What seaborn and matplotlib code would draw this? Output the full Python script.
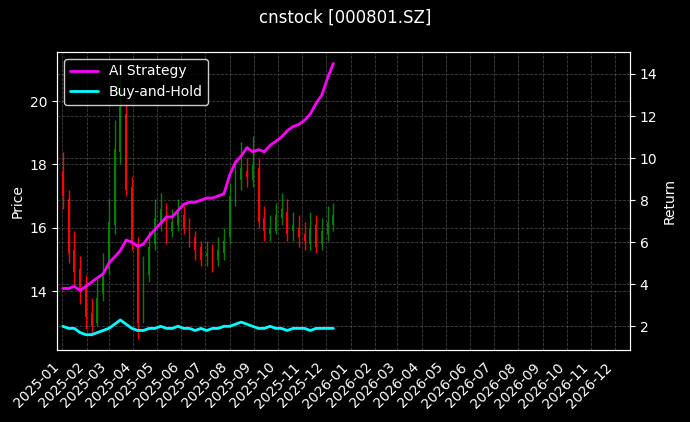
import numpy as np
import pandas as pd
import matplotlib
matplotlib.use("Agg")
import matplotlib.pyplot as plt
import matplotlib.dates as mdates
import seaborn as sns

closes = [17.0,15.2,14.6,14.0, 13.2,12.9,13.8,14.6, 16.2,18.5,19.8,17.2, 15.6,13.0,14.6,15.4,
          16.3,16.6,15.8,16.2, 16.5,16.0,15.6,15.3,15.0, 15.2,14.9,15.3,15.6, 17.0,17.4,17.9,17.6,
          18.0,16.2,15.9,16.0, 16.4,16.6,15.8,16.1,15.7, 15.6,16.0,15.4,15.9, 16.2,16.4]
opens = [17.8,16.9,15.3,14.7, 14.1,13.3,13.0,13.9, 14.7,16.1,18.4,19.6, 17.3,15.5,13.2,14.5,
         15.5,16.2,16.5,15.9, 16.1,16.4,16.1,15.7,15.4, 15.1,15.3,15.0,15.2, 15.7,16.9,17.5,17.8,
         17.5,17.9,16.3,15.8, 15.9,16.3,16.5,15.9,16.0, 15.8,15.5,16.1,15.5, 15.8,16.1]
highs = [18.4,17.2,15.9,15.1, 14.5,13.8,14.4,15.2, 16.9,19.4,21.3,19.9, 17.6,15.7,15.1,15.9,
         16.9,17.1,16.8,16.6, 16.9,16.7,16.3,15.9,15.6, 15.6,15.5,15.7,16.0, 17.4,18.0,18.7,18.2,
         18.9,18.2,16.7,16.4, 16.8,17.1,16.9,16.5,16.4, 16.2,16.5,16.4,16.3, 16.7,16.8]
lows = [16.6,14.9,14.2,13.6, 12.8,12.6,12.9,13.7, 14.5,15.8,18.0,17.0, 15.3,12.5,13.0,14.3,
        15.3,15.9,15.5,15.7, 15.9,15.8,15.4,15.0,14.8, 14.8,14.6,14.8,15.0, 15.5,16.7,17.2,17.3,
        17.3,16.0,15.6,15.6, 15.8,16.1,15.6,15.6,15.4, 15.3,15.3,15.2,15.3, 15.6,15.9]
strategy = [3.8,3.8,3.9,3.7,3.9,4.1,4.3,4.5,5.0,5.3,5.6,6.1,6.0,5.8,5.9,6.3,6.6,6.9,7.2,7.2,
            7.5,7.8,7.9,7.9,8.0,8.1,8.1,8.2,8.3,9.2,9.8,10.1,10.5,10.3,10.4,10.3,10.6,10.8,11.0,
            11.3,11.5,11.6,11.8,12.1,12.6,13.0,13.8,14.5]
buyhold = [2.0,1.9,1.9,1.7,1.6,1.6,1.7,1.8,1.9,2.1,2.3,2.1,1.9,1.8,1.8,1.9,1.9,2.0,1.9,1.9,
           2.0,1.9,1.9,1.8,1.9,1.8,1.9,1.9,2.0,2.0,2.1,2.2,2.1,2.0,1.9,1.9,2.0,1.9,1.9,1.8,
           1.9,1.9,1.9,1.8,1.9,1.9,1.9,1.9]
dates = pd.date_range("2025-01-02", "2025-12-10", periods=len(closes))

df = pd.DataFrame({"date": dates, "open": opens, "close": closes, "high": highs, "low": lows,
                   "AI Strategy": strategy, "Buy-and-Hold": buyhold})

plt.style.use("dark_background")
sns.set_style("dark", {"axes.facecolor": "black", "figure.facecolor": "black",
                       "axes.edgecolor": "white", "text.color": "white",
                       "axes.labelcolor": "white", "xtick.color": "white", "ytick.color": "white"})
plt.rcParams["font.family"] = ["DejaVu Sans"]

fig, ax = plt.subplots(figsize=(6.9, 4.22), dpi=100)
fig.patch.set_facecolor("black")
ax.set_facecolor("black")

cols = ["green" if c >= o else "red" for o, c in zip(df.open, df.close)]
ax.vlines(df.date, df.low, df.high, colors=cols, linewidth=1)
ax.bar(df.date, np.abs(df.close - df.open), bottom=np.minimum(df.open, df.close),
       width=2.2, color=cols, edgecolor="none", linewidth=0)
ax.set_ylabel("Price")
ax.set_ylim(12.14, 21.55)
ax.grid(True, linestyle="--", color="gray", alpha=0.5, linewidth=0.6)

ax2 = ax.twinx()
sns.lineplot(data=df, x="date", y="AI Strategy", ax=ax2, color="magenta", linewidth=2, label="AI Strategy")
sns.lineplot(data=df, x="date", y="Buy-and-Hold", ax=ax2, color="cyan", linewidth=2, label="Buy-and-Hold")
ax2.set_ylim(0.86, 15.05)
ax2.set_ylabel("Return")
ax2.set_xlabel("")
ax2.grid(True, axis="y", linestyle="--", color="gray", alpha=0.5, linewidth=0.6)
leg = ax2.legend(loc="upper left", facecolor="black", edgecolor="white")
for t in leg.get_texts():
    t.set_color("white")

ax.set_xlim(pd.Timestamp("2024-12-26"), pd.Timestamp("2026-12-20"))
ax.xaxis.set_major_locator(mdates.MonthLocator())
ax.xaxis.set_major_formatter(mdates.DateFormatter("%Y-%m"))
plt.setp(ax.get_xticklabels(), rotation=45, ha="right")
for a in (ax, ax2):
    for s in a.spines.values():
        s.set_color("white")

fig.suptitle("cnstock [000801.SZ]", color="white")
fig.subplots_adjust(left=0.083, right=0.913, top=0.877, bottom=0.17)
fig.savefig("out.png", dpi=100, facecolor="black")
